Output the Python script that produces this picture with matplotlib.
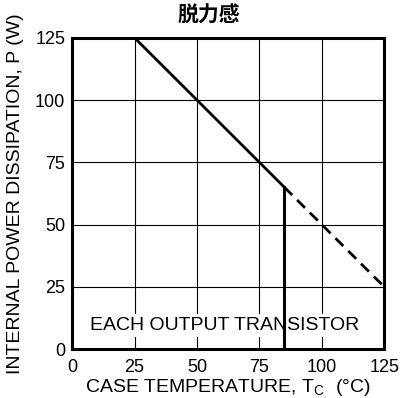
import matplotlib
matplotlib.use("Agg")
import matplotlib.pyplot as plt

plt.rcParams['font.family'] = ['Liberation Sans', 'Noto Sans CJK SC', 'DejaVu Sans']
plt.rcParams['mathtext.fontset'] = 'custom'
plt.rcParams['mathtext.rm'] = 'Liberation Sans'

title = "脱力感"
xlabel = "CASE TEMPERATURE, T$_{\\mathregular{C}}$  (°C)"
ylabel = "INTERNAL POWER DISSIPATION, P (W)"
ticks = [0, 25, 50, 75, 100, 125]

solid_x = [0, 25, 85]
solid_y = [125, 125, 65]
dashed_x = [85, 125]
dashed_y = [65, 25]
vert_x = [85, 85]
vert_y = [0, 65]
note = "EACH OUTPUT TRANSISTOR"

fig = plt.figure(figsize=(4.01, 3.98), dpi=100)
ax = fig.add_axes([0.18, 0.123, 0.778, 0.782])
ax.set_xlim(0, 125)
ax.set_ylim(0, 125)
ax.set_xticks(ticks)
ax.set_yticks(ticks)
ax.tick_params(length=0, labelsize=13, colors='black')
ax.tick_params(axis='x', pad=7)
ax.tick_params(axis='y', pad=5)
ax.grid(True, color='black', linewidth=0.8)
ax.set_axisbelow(True)
for s in ax.spines.values():
    s.set_linewidth(2.2)

ax.plot(solid_x, solid_y, color='black', linewidth=2, solid_capstyle='butt', zorder=3)
ax.plot(dashed_x, dashed_y, color='black', linewidth=2, linestyle=(0, (4, 2.5)), zorder=3)
ax.plot(vert_x, vert_y, color='black', linewidth=2.2, zorder=3)

ax.text(61, 9.5, note, ha='center', va='center', fontsize=14,
        bbox=dict(facecolor='white', edgecolor='none', pad=2), zorder=2.5)

ax.set_xlabel(xlabel, fontsize=14, labelpad=1)
ax.set_ylabel(ylabel, fontsize=14, labelpad=8)
fig.text(0.521, 1 - 16 / 398, title, ha='center', va='center', fontsize=15, fontweight='bold')

fig.savefig("out.png", dpi=100)
